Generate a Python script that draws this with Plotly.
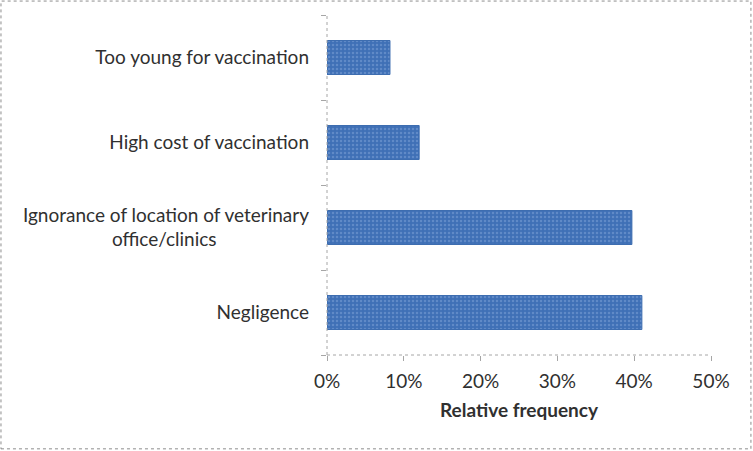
import plotly.graph_objects as go

# Reasons for not vaccinating (bottom to top as drawn)
reasons = [
    "Negligence",
    "Ignorance of location of veterinary<br>office/clinics" + "&nbsp;" * 19,
    "High cost of vaccination",
    "Too young for vaccination",
]
rel_freq = [0.41, 0.397, 0.12, 0.082]

FONT = "Lato, 'Open Sans', sans-serif"
AXIS_GRAY = "#a6a6a6"
FS = 19

fig = go.Figure()

fig.add_trace(go.Bar(
    x=rel_freq,
    y=reasons,
    orientation="h",
    width=0.4,
    marker=dict(
        color="#4a7bc0",
        line=dict(color="#3d6db0", width=1),
        pattern=dict(shape=".", fgcolor="#7fa4d8", bgcolor="#3f70b6", size=4, solidity=0.3),
    ),
    hoverinfo="x+y",
))

# dotted axis lines like the original
fig.add_shape(type="line", xref="paper", yref="paper", x0=0, x1=1, y0=0, y1=0,
              line=dict(color=AXIS_GRAY, width=1, dash="dot"))
fig.add_shape(type="line", xref="paper", yref="paper", x0=0, x1=0, y0=0, y1=1,
              line=dict(color=AXIS_GRAY, width=1, dash="dot"))

# dashed frame round the whole chart
fig.add_shape(type="rect", xref="paper", yref="paper",
              x0=-0.849, x1=1.104, y0=-0.276, y1=1.041,
              line=dict(color="#8c8c8c", width=1, dash="dot"))

fig.update_layout(
    width=753,
    height=451,
    margin=dict(l=327, r=42, t=15, b=96),
    paper_bgcolor="white",
    plot_bgcolor="white",
    showlegend=False,
    bargap=0.6,
    font=dict(family=FONT, size=FS, color="#303030"),
    xaxis=dict(
        range=[0, 0.5],
        dtick=0.1,
        tickformat=".0%",
        showgrid=False,
        zeroline=False,
        showline=False,
        ticks="outside",
        ticklen=5,
        tickcolor=AXIS_GRAY,
        tickfont=dict(size=FS),
        ticklabelstandoff=4,
        automargin=False,
        title=dict(text="<b>Relative frequency</b>", font=dict(size=FS), standoff=12),
    ),
    yaxis=dict(
        showgrid=False,
        zeroline=False,
        showline=False,
        ticks="outside",
        ticklen=5,
        tickcolor=AXIS_GRAY,
        tickson="boundaries",
        tickfont=dict(size=FS),
        ticklabelstandoff=17,
        automargin=False,
    ),
)

fig.write_html("out.html", config={"displayModeBar": False},
               post_script="document.body.style.margin='0';")
